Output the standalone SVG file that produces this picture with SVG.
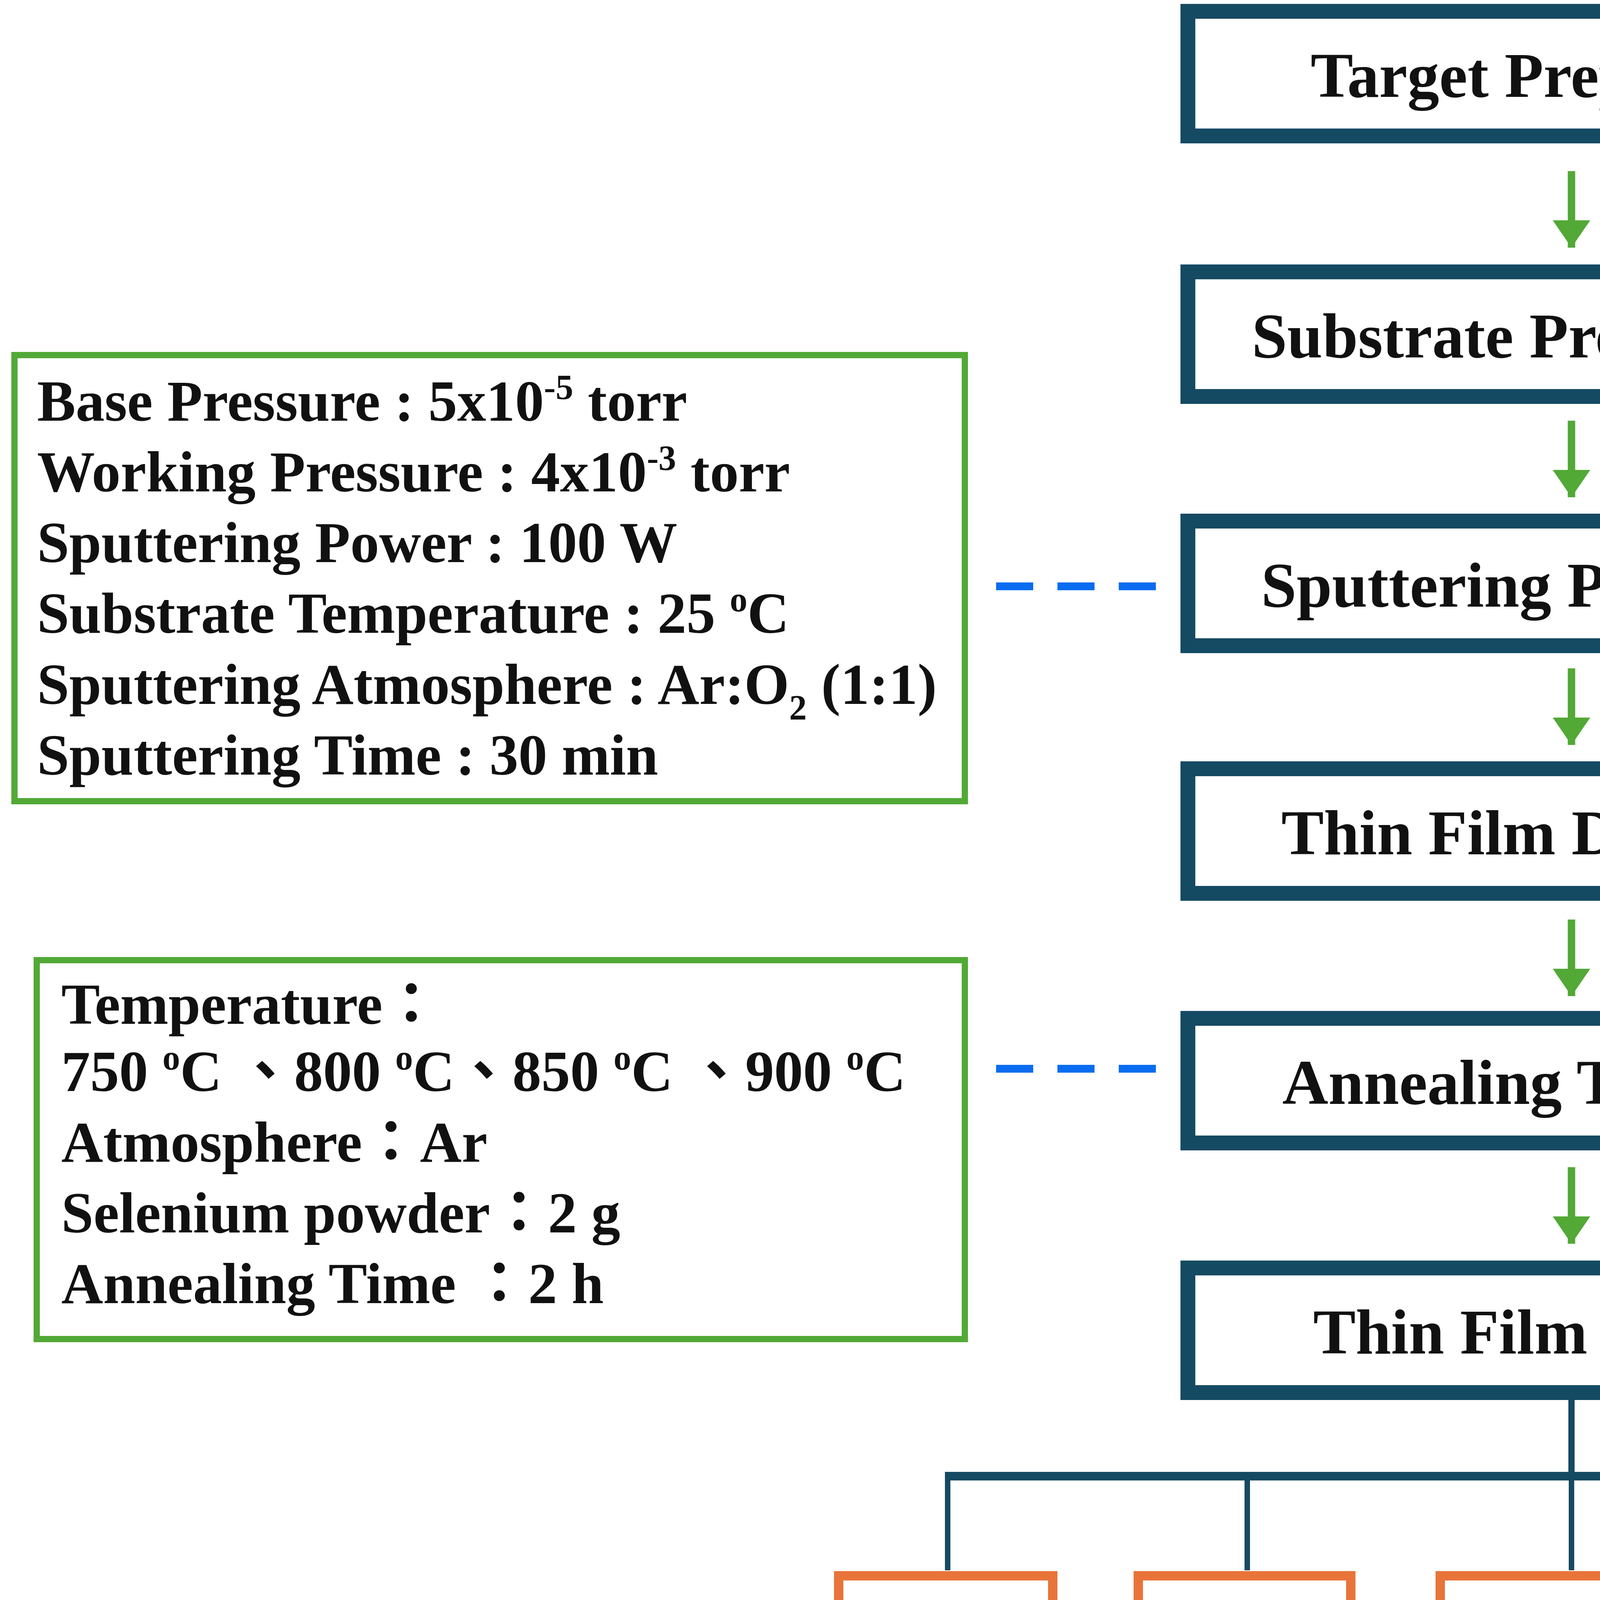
<svg xmlns="http://www.w3.org/2000/svg" width="7473" height="4419" viewBox="0 0 7473 4419">
<style>
text{font-family:"Liberation Serif","Times New Roman",serif;font-weight:bold;fill:#111}
.main{fill:#fff;stroke:#154a63;stroke-width:38}
.note{fill:#fff;stroke:#52a936;stroke-width:16}
.res{fill:#fff;stroke:#e8743a;stroke-width:24}
.mt{font-size:163px;text-anchor:middle}
.nt{font-size:148px}
.rt{font-size:195px;text-anchor:middle}
.dash{stroke:#0a6cf0;stroke-width:20;stroke-dasharray:95 62;fill:none}
.arr{stroke:#52a936;stroke-width:19;fill:none}
.tree{stroke:#154a63;fill:none}
.sup{font-size:90px}
</style>
<defs>
<marker id="ah" markerUnits="userSpaceOnUse" markerWidth="70" markerHeight="96" refX="70" refY="48" orient="auto" viewBox="0 0 70 96"><path d="M0,0 L70,48 L0,96 Z" fill="#52a936"/></marker>
</defs>
<g id="connectors">
<line class="arr" x1="4023" y1="438" x2="4023" y2="634" marker-end="url(#ah)"/>
<line class="arr" x1="4023" y1="1077" x2="4023" y2="1273" marker-end="url(#ah)"/>
<line class="arr" x1="4023" y1="1711" x2="4023" y2="1907" marker-end="url(#ah)"/>
<line class="arr" x1="4023" y1="2354" x2="4023" y2="2550" marker-end="url(#ah)"/>
<line class="arr" x1="4023" y1="2988" x2="4023" y2="3184" marker-end="url(#ah)"/>
<line class="dash" x1="5081" y1="200" x2="5490" y2="200"/>
<line class="dash" x1="5081" y1="839" x2="5490" y2="839"/>
<line class="dash" x1="5081" y1="2111" x2="5490" y2="2111"/>
<line class="dash" x1="5081" y1="2750" x2="5490" y2="2750"/>
<line class="dash" x1="2550" y1="1501" x2="2959" y2="1501"/>
<line class="dash" x1="2550" y1="2736" x2="2959" y2="2736"/>
<line class="tree" stroke-width="16" x1="4023" y1="3584" x2="4023" y2="3779"/>
<line class="tree" stroke-width="22" x1="2419" y1="3779" x2="5626" y2="3779"/>
<g stroke-width="14">
<line class="tree" x1="2426" y1="3779" x2="2426" y2="4020"/>
<line class="tree" x1="3193" y1="3779" x2="3193" y2="4020"/>
<line class="tree" x1="4023" y1="3779" x2="4023" y2="4020"/>
<line class="tree" x1="4804" y1="3779" x2="4804" y2="4020"/>
<line class="tree" x1="5614" y1="3779" x2="5614" y2="4020"/>
</g>
</g>
<g id="n1"><rect class="main" x="3041" y="29" width="1963" height="319"/><text class="mt" x="4023" y="248">Target Preparation</text></g>
<g id="n2"><rect class="main" x="3041" y="696" width="1963" height="319"/><text class="mt" x="4023" y="915">Substrate Pretreatment</text></g>
<g id="n3"><rect class="main" x="3041" y="1334" width="1963" height="319"/><text class="mt" x="4023" y="1553">Sputtering Parameters</text></g>
<g id="n4"><rect class="main" x="3041" y="1968" width="1963" height="319"/><text class="mt" x="4023" y="2187">Thin Film Deposition</text></g>
<g id="n5"><rect class="main" x="3041" y="2607" width="1963" height="319"/><text class="mt" x="4023" y="2826">Annealing Treatment</text></g>
<g id="n6"><rect class="main" x="3041" y="3246" width="1963" height="319"/><text class="mt" x="4023" y="3465">Thin Film Analysis</text></g>
<g id="r1"><rect class="note" x="5579" y="84" width="585" height="227"/><text class="nt" x="5662" y="253">LBCO</text></g>
<g id="r2"><rect class="note" x="5579" y="718" width="1862" height="227"/><text class="nt" x="5645" y="891">Cut and Clean quartz glass</text></g>
<g id="r3"><rect class="note" x="5579" y="1991" width="585" height="227"/><text class="nt" x="5662" y="2163">LBCO</text></g>
<g id="r4"><rect class="note" x="5579" y="2629" width="699" height="227"/><text class="nt" x="5645" y="2800">LBCOSe</text></g>
<g id="l1"><rect class="note" x="37" y="909" width="2433" height="1142"/>
<text class="nt" x="95" y="1077">Base Pressure : 5x10<tspan class="sup" dy="-55">-5</tspan><tspan dy="55"> torr</tspan></text>
<text class="nt" x="95" y="1258">Working Pressure : 4x10<tspan class="sup" dy="-55">-3</tspan><tspan dy="55"> torr</tspan></text>
<text class="nt" x="95" y="1439">Sputtering Power : 100 W</text>
<text class="nt" x="95" y="1620">Substrate Temperature : 25 <tspan class="sup" dy="-55">o</tspan><tspan dy="55">C</tspan></text>
<text class="nt" x="95" y="1802">Sputtering Atmosphere : Ar:O<tspan class="sup" dy="40">2</tspan><tspan dy="-40"> (1:1)</tspan></text>
<text class="nt" x="95" y="1983">Sputtering Time : 30 min</text>
</g>
<g id="l2"><rect class="note" x="94" y="2458" width="2376" height="970"/>
<text class="nt" x="157" y="2621">Temperature<tspan font-family="Noto Sans CJK TC,sans-serif">：</tspan></text>
<text class="nt" x="157" y="2793">750 <tspan class="sup" dy="-55">o</tspan><tspan dy="55">C </tspan><tspan font-family="Noto Sans CJK TC,sans-serif">、</tspan>800 <tspan class="sup" dy="-55">o</tspan><tspan dy="55">C</tspan><tspan font-family="Noto Sans CJK TC,sans-serif">、</tspan>850 <tspan class="sup" dy="-55">o</tspan><tspan dy="55">C </tspan><tspan font-family="Noto Sans CJK TC,sans-serif">、</tspan>900 <tspan class="sup" dy="-55">o</tspan><tspan dy="55">C</tspan></text>
<text class="nt" x="157" y="2974">Atmosphere<tspan font-family="Noto Sans CJK TC,sans-serif">：</tspan>Ar</text>
<text class="nt" x="157" y="3155">Selenium powder<tspan font-family="Noto Sans CJK TC,sans-serif">：</tspan>2 g</text>
<text class="nt" x="157" y="3336">Annealing Time <tspan font-family="Noto Sans CJK TC,sans-serif">：</tspan>2 h</text>
</g>
<g id="o1"><rect class="res" x="2147" y="4034" width="548" height="291"/><text class="rt" x="2421" y="4256">XRD</text></g>
<g id="o2"><rect class="res" x="2914" y="4034" width="544" height="291"/><text class="rt" x="3186" y="4256">SEM</text></g>
<g id="o3"><rect class="res" x="3687" y="4034" width="490" height="291"/><text class="rt" x="3932" y="4256">XPS</text></g>
<g id="o4"><rect class="res" x="4363" y="4034" width="791" height="291"/><text class="rt" x="4758" y="4256">UV-VIS</text></g>
<g id="o5"><rect class="res" x="5317" y="4034" width="671" height="291"/><text class="rt" x="5652" y="4256">HALL</text></g>
</svg>
